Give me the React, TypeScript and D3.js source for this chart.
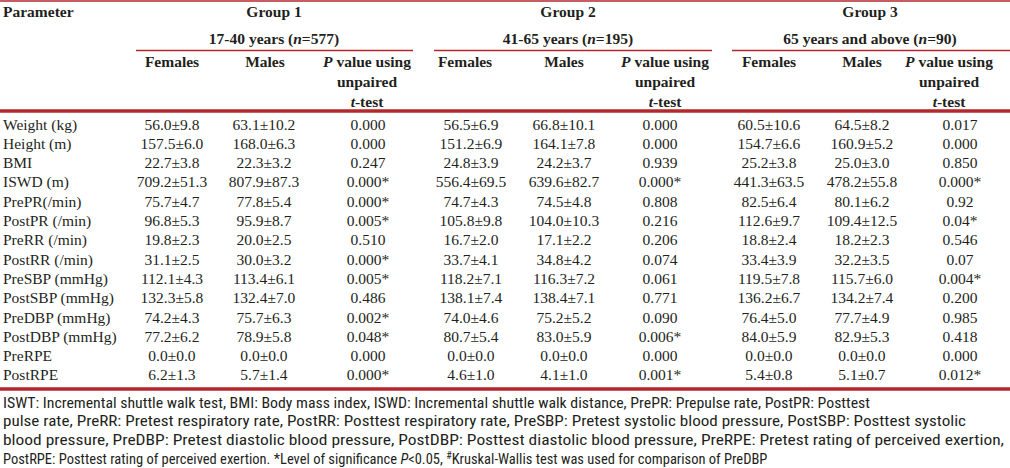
import React from "react";
import * as d3 from "d3";

const parameters = ["Weight (kg)", "Height (m)", "BMI", "ISWD (m)", "PrePR(/min)", "PostPR (/min)", "PreRR (/min)", "PostRR (/min)", "PreSBP (mmHg)", "PostSBP (mmHg)", "PreDBP (mmHg)", "PostDBP (mmHg)", "PreRPE", "PostRPE"];
const g1Females = ["56.0±9.8", "157.5±6.0", "22.7±3.8", "709.2±51.3", "75.7±4.7", "96.8±5.3", "19.8±2.3", "31.1±2.5", "112.1±4.3", "132.3±5.8", "74.2±4.3", "77.2±6.2", "0.0±0.0", "6.2±1.3"];
const g1Males = ["63.1±10.2", "168.0±6.3", "22.3±3.2", "807.9±87.3", "77.8±5.4", "95.9±8.7", "20.0±2.5", "30.0±3.2", "113.4±6.1", "132.4±7.0", "75.7±6.3", "78.9±5.8", "0.0±0.0", "5.7±1.4"];
const g1P = ["0.000", "0.000", "0.247", "0.000*", "0.000*", "0.005*", "0.510", "0.000*", "0.005*", "0.486", "0.002*", "0.048*", "0.000", "0.000*"];
const g2Females = ["56.5±6.9", "151.2±6.9", "24.8±3.9", "556.4±69.5", "74.7±4.3", "105.8±9.8", "16.7±2.0", "33.7±4.1", "118.2±7.1", "138.1±7.4", "74.0±4.6", "80.7±5.4", "0.0±0.0", "4.6±1.0"];
const g2Males = ["66.8±10.1", "164.1±7.8", "24.2±3.7", "639.6±82.7", "74.5±4.8", "104.0±10.3", "17.1±2.2", "34.8±4.2", "116.3±7.2", "138.4±7.1", "75.2±5.2", "83.0±5.9", "0.0±0.0", "4.1±1.0"];
const g2P = ["0.000", "0.000", "0.939", "0.000*", "0.808", "0.216", "0.206", "0.074", "0.061", "0.771", "0.090", "0.006*", "0.000", "0.001*"];
const g3Females = ["60.5±10.6", "154.7±6.6", "25.2±3.8", "441.3±63.5", "82.5±6.4", "112.6±9.7", "18.8±2.4", "33.4±3.9", "119.5±7.8", "136.2±6.7", "76.4±5.0", "84.0±5.9", "0.0±0.0", "5.4±0.8"];
const g3Males = ["64.5±8.2", "160.9±5.2", "25.0±3.0", "478.2±55.8", "80.1±6.2", "109.4±12.5", "18.2±2.3", "32.2±3.5", "115.7±6.0", "134.2±7.4", "77.7±4.9", "82.9±5.3", "0.0±0.0", "5.1±0.7"];
const g3P = ["0.017", "0.000", "0.850", "0.000*", "0.92", "0.04*", "0.546", "0.07", "0.004*", "0.200", "0.985", "0.418", "0.000", "0.012*"];

const groupNames = ["Group 1", "Group 2", "Group 3"];
const groupRangesPre = ["17-40 years (", "41-65 years (", "65 years and above ("];
const groupN = ["577", "195", "90"];
const subHeaders = ["Females", "Males"];

const footLines = [
  "ISWT: Incremental shuttle walk test, BMI: Body mass index, ISWD: Incremental shuttle walk distance, PrePR: Prepulse rate, PostPR: Posttest",
  "pulse rate, PreRR: Pretest respiratory rate, PostRR: Posttest respiratory rate, PreSBP: Pretest systolic blood pressure, PostSBP: Posttest systolic",
  "blood pressure, PreDBP: Pretest diastolic blood pressure, PostDBP: Posttest diastolic blood pressure, PreRPE: Pretest rating of perceived exertion,",
];

const RED = "#b3272d";
const INK = "#231f20";
const SERIF = "Liberation Serif";
const NARROW = "Roboto Condensed";

export default function App() {
  const W = 1010, H = 468;
  const groups = [
    { f: g1Females, m: g1Males, p: g1P },
    { f: g2Females, m: g2Males, p: g2P },
    { f: g3Females, m: g3Males, p: g3P },
  ];
  const y = d3.scalePoint<string>().domain(parameters).range([129.5, 380.4]);
  const groupCenter = [274, 568, 870];
  const groupLine = [[136, 413], [434, 712], [732, 1010]];
  const hdrX = [[172, 265, 367], [465, 564, 665], [769, 862, 949]];
  const valX = [[172, 264, 368], [471, 564, 660], [769, 862, 960]];
  const footLen = [870, 966, 1004];
  const fs = 15.5;
  const footY = (i: number) => 407.5 + i * 18.8;

  return (
    <svg width={W} height={H} style={{ position: "absolute", left: 0, top: 0, background: "#fff" }}>
      <rect x={0} y={0} width={W} height={H} fill="#fff" />
      <line x1={0} x2={W} y1={1} y2={1} stroke={RED} strokeWidth={1.5} />
      <g fontFamily={SERIF} fontSize={fs} fill={INK} fontWeight="bold">
        <text x={3} y={17}>Parameter</text>
        {groupNames.map((g, i) => (
          <g key={g}>
            <text x={groupCenter[i]} y={17} textAnchor="middle">{g}</text>
            <text x={groupCenter[i]} y={44} textAnchor="middle">
              {groupRangesPre[i]}<tspan fontStyle="italic">n</tspan>={groupN[i]})
            </text>
            <line x1={groupLine[i][0]} x2={groupLine[i][1]} y1={50.5} y2={50.5} stroke={RED} strokeWidth={1.3} />
            {subHeaders.map((s, j) => (
              <text key={s} x={hdrX[i][j]} y={67} textAnchor="middle">{s}</text>
            ))}
            <text x={hdrX[i][2]} y={67} textAnchor="middle"><tspan fontStyle="italic">P</tspan> value using</text>
            <text x={hdrX[i][2]} y={87} textAnchor="middle">unpaired</text>
            <text x={hdrX[i][2]} y={107} textAnchor="middle"><tspan fontStyle="italic">t</tspan>-test</text>
          </g>
        ))}
      </g>
      <line x1={0} x2={W} y1={111} y2={111} stroke={RED} strokeWidth={3.5} />
      <g fontFamily={SERIF} fontSize={fs} fill={INK}>
        {parameters.map((p, r) => (
          <g key={p}>
            <text x={3} y={y(p)}>{p}</text>
            {groups.map((g, i) => (
              <g key={i}>
                <text x={valX[i][0]} y={y(p)} textAnchor="middle">{g.f[r]}</text>
                <text x={valX[i][1]} y={y(p)} textAnchor="middle">{g.m[r]}</text>
                <text x={valX[i][2]} y={y(p)} textAnchor="middle">{g.p[r]}</text>
              </g>
            ))}
          </g>
        ))}
      </g>
      <line x1={0} x2={W} y1={389} y2={389} stroke={RED} strokeWidth={3.5} />
      <g fontFamily={NARROW} fontSize={14.5} fill={INK}>
        {footLines.map((t, i) => (
          <text key={i} x={3} y={footY(i)} textLength={footLen[i] - 3} lengthAdjust="spacingAndGlyphs">{t}</text>
        ))}
        <text x={3} y={footY(3)}>
          PostRPE: Posttest rating of perceived exertion. *Level of significance <tspan fontStyle="italic">P</tspan>&lt;0.05, <tspan fontSize={10} baselineShift="super">#</tspan>Kruskal-Wallis test was used for comparison of PreDBP
        </text>
      </g>
    </svg>
  );
}
